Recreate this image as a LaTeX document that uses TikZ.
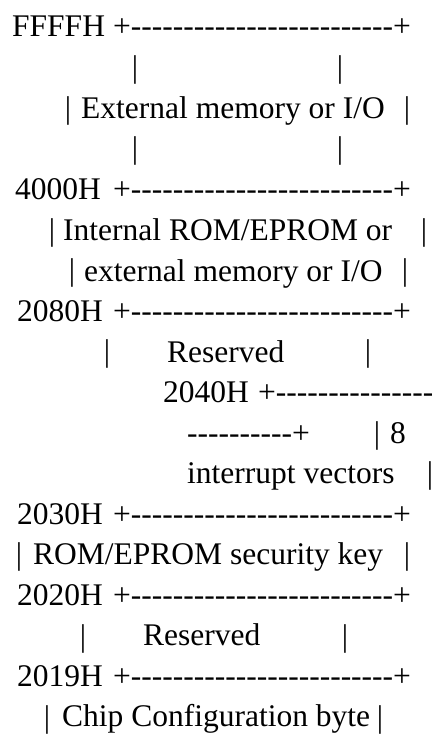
\documentclass[tikz,border=0pt]{standalone}
\usepackage{fontspec}
\setmainfont{Liberation Serif}
\usepackage{tikz}
\usetikzlibrary{positioning}
\newcommand{\dashrun}[1]{\foreach\k in {1,...,#1}{-\kern0pt}}
\tikzset{
  memtext/.style={inner sep=0pt, anchor=base west, font=\fontsize{31.5bp}{40bp}\selectfont},
  membar/.style={inner sep=0pt, anchor=base, font=\fontsize{31.5bp}{40bp}\selectfont}
}

\begin{document}
\begin{tikzpicture}[x=1bp, y=-1bp]
\clip (0,0) rectangle (431,736);
% Address labels with their boundary rules
\foreach \row/\addr/\ax in {1/FFFFH/12, 5/4000H/15, 8/2080H/17, 13/2030H/17, 15/2020H/17, 17/2019H/17} {
    \node[memtext] (addr\addr) at ({\ax},{37+40.6*(\row-1)}) {\addr};
    \node[memtext] (rule\addr) at (113,{37+40.6*(\row-1)}) {+\dashrun{25}+};
}
% Side bars of the regions
\foreach \row/\bx/\side in {2/135/l, 2/340/r, 3/68/l, 3/407/r, 4/135/l, 4/340/r,
    6/52/l, 6/424/r, 7/72/l, 7/405/r, 9/107/l, 9/368/r, 11/377/r, 12/430/r,
    14/19/l, 14/407/r, 16/83/l, 16/345/r, 18/47/l, 18/380/r} {
    \node[membar] (bar\row\side) at ({\bx},{37+40.6*(\row-1)}) {|};
}
% Region texts
\node[memtext] (extmem) at (81,118) {External memory or I/O};
\node[memtext] (introm) at (63,240) {Internal ROM/EPROM or};
\node[memtext] (intext) at (84,281) {external memory or I/O};
\node[memtext] (resvhi) at (167,362) {Reserved};
\node[memtext] (addrvec) at (163,402) {2040H};
\node[memtext] (rulevec) at (258,402) {+\dashrun{16}};
\node[memtext] (rulewrap) at (187,443) {\dashrun{10}+};
\node[memtext] (vecnum) at (390,443) {8};
\node[memtext] (vectext) at (187,483) {interrupt vectors};
\node[memtext] (seckey) at (33,564) {ROM/EPROM security key};
\node[memtext] (resvlo) at (143,645) {Reserved};
\node[memtext] (ccb) at (62,726) {Chip Configuration byte};
\end{tikzpicture}
\end{document}
